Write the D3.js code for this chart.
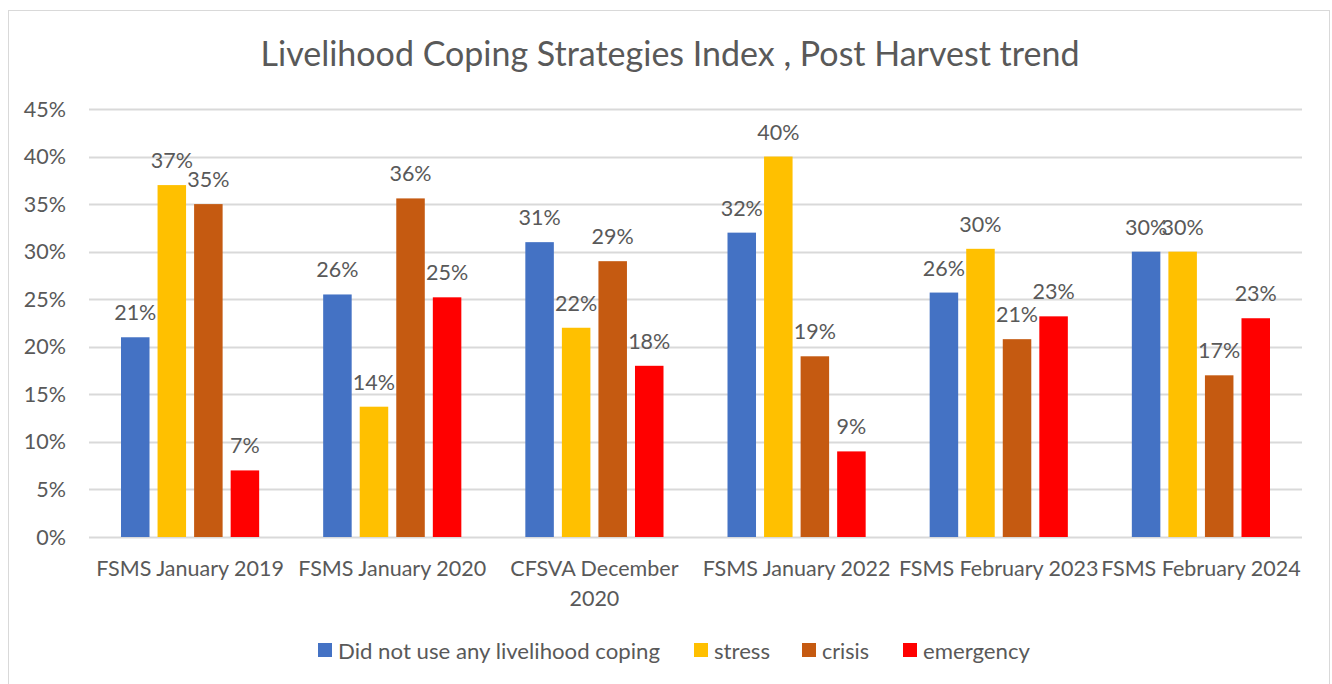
<!DOCTYPE html>
<html>
<head>
<meta charset="utf-8">
<script src="https://cdn.jsdelivr.net/npm/d3@7"></script>
<style>
  body { margin: 0; background: #fff; }
  text { font-family: Lato, "Open Sans", sans-serif; fill: #595959; }
</style>
</head>
<body>
<div id="chart"></div>
<script>
var categories = ["FSMS January 2019", "FSMS January 2020", "CFSVA December 2020", "FSMS January 2022", "FSMS February 2023", "FSMS February 2024"];
var seriesNames = ["Did not use any livelihood coping", "stress", "crisis", "emergency"];
var seriesColors = ["#4472c4", "#ffc000", "#c55a11", "#ff0000"];
var noneValues = [0.21, 0.255, 0.31, 0.32, 0.257, 0.30];
var stressValues = [0.37, 0.137, 0.22, 0.40, 0.303, 0.30];
var crisisValues = [0.35, 0.356, 0.29, 0.19, 0.208, 0.17];
var emergencyValues = [0.07, 0.252, 0.18, 0.09, 0.232, 0.23];
var yTicks = [0, 0.05, 0.10, 0.15, 0.20, 0.25, 0.30, 0.35, 0.40, 0.45];

var W = 1332, H = 684;
var margin = { top: 109, left: 89, bottom: 147, right: 30 };
var width = 1302 - margin.left;
var height = 537 - margin.top;

var svg = d3.select("#chart").append("svg")
    .attr("width", W)
    .attr("height", H);

// outer frame
svg.append("rect")
    .attr("x", 8.5).attr("y", 10.5)
    .attr("width", 1321).attr("height", 700)
    .attr("fill", "#fff")
    .attr("stroke", "#d9d9d9");

svg.append("text")
    .attr("x", 670)
    .attr("y", 66)
    .attr("text-anchor", "middle")
    .attr("font-size", "34px")
    .text("Livelihood Coping Strategies Index , Post Harvest trend");

var g = svg.append("g")
    .attr("transform", "translate(" + margin.left + "," + margin.top + ")");

var x0 = d3.scaleBand().domain(categories).range([0, width]).paddingInner(0).paddingOuter(0);
var x1 = d3.scaleBand().domain(seriesNames).range([32, x0.bandwidth() - 32]).paddingInner(0.22);
var y = d3.scaleLinear().domain([0, 0.45]).range([height, 0]);

var data = categories.map(function(c, i) {
    return { cat: c, vals: [noneValues[i], stressValues[i], crisisValues[i], emergencyValues[i]] };
});

// gridlines
g.append("g")
    .selectAll("line")
    .data(yTicks)
    .enter().append("line")
    .attr("x1", 0).attr("x2", width)
    .attr("y1", function(d) { return Math.round(y(d)) + 0.5; })
    .attr("y2", function(d) { return Math.round(y(d)) + 0.5; })
    .attr("stroke", "#d9d9d9")
    .attr("stroke-width", 2);

// y axis labels
g.append("g")
    .selectAll("text")
    .data(yTicks)
    .enter().append("text")
    .attr("x", -23)
    .attr("y", function(d) { return y(d); })
    .attr("dy", "0.35em")
    .attr("text-anchor", "end")
    .attr("font-size", "21.5px")
    .text(d3.format(".0%"));

var groups = g.selectAll(".grp")
    .data(data)
    .enter().append("g")
    .attr("class", "grp")
    .attr("transform", function(d) { return "translate(" + x0(d.cat) + ",0)"; });

var bars = groups.selectAll("g")
    .data(function(d) {
        return d.vals.map(function(v, k) { return { key: seriesNames[k], value: v, color: seriesColors[k] }; });
    })
    .enter().append("g");

bars.append("rect")
    .attr("x", function(d) { return x1(d.key); })
    .attr("y", function(d) { return y(d.value); })
    .attr("width", x1.bandwidth())
    .attr("height", function(d) { return height - y(d.value); })
    .attr("fill", function(d) { return d.color; });

bars.append("text")
    .attr("x", function(d) { return x1(d.key) + x1.bandwidth() / 2; })
    .attr("y", function(d) { return y(d.value) - 17; })
    .attr("text-anchor", "middle")
    .attr("font-size", "21.5px")
    .text(function(d) { return d3.format(".0%")(d.value); });

// category labels, wrap the long one like the original
groups.append("text")
    .attr("x", x0.bandwidth() / 2)
    .attr("y", height + 39)
    .attr("text-anchor", "middle")
    .attr("font-size", "21.5px")
    .each(function(d) {
        var el = d3.select(this);
        var lines = d.cat === "CFSVA December 2020" ? ["CFSVA December", "2020"] : [d.cat];
        lines.forEach(function(l, i) {
            el.append("tspan").attr("x", x0.bandwidth() / 2).attr("dy", i ? "1.38em" : 0).text(l);
        });
    });

// legend
var legendX = [318, 694, 802, 903];
var legendW = [322, 56, 47, 107];
var legend = svg.append("g")
    .selectAll("g")
    .data(seriesNames)
    .enter().append("g")
    .attr("transform", function(d, i) { return "translate(" + legendX[i] + ",643)"; });

legend.append("rect")
    .attr("width", 14).attr("height", 14)
    .attr("fill", function(d, i) { return seriesColors[i]; });

legend.append("text")
    .attr("x", 20)
    .attr("y", 8)
    .attr("dy", "0.35em")
    .attr("font-size", "21.5px")
    .attr("textLength", function(d, i) { return legendW[i]; })
    .attr("lengthAdjust", "spacingAndGlyphs")
    .text(function(d) { return d; });
</script>
</body>
</html>
